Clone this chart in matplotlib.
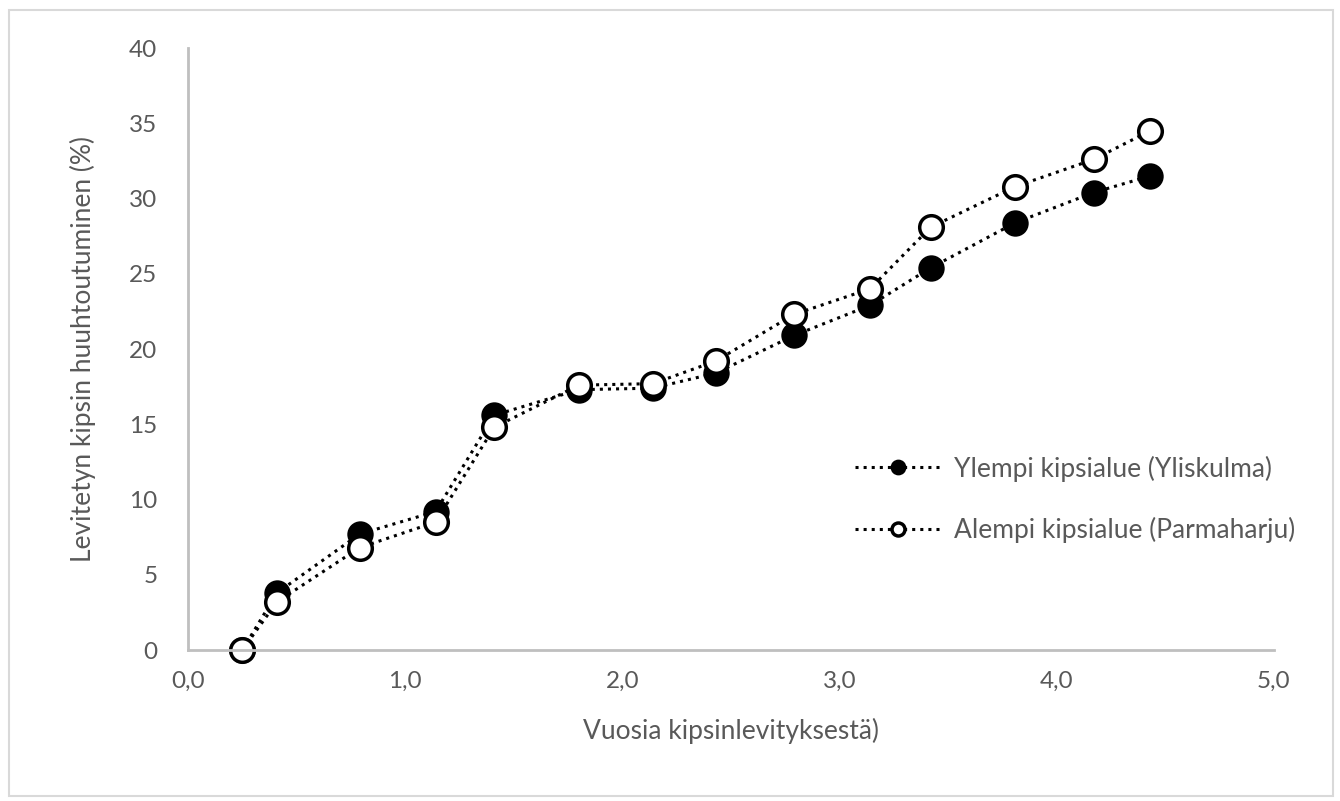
import matplotlib
matplotlib.use("Agg")
import matplotlib.pyplot as plt
from matplotlib.patches import Rectangle
from matplotlib.ticker import FuncFormatter

plt.rcParams["font.family"] = ["Lato", "DejaVu Sans"]

# years since gypsum spreading
years = [0.25, 0.41, 0.79, 1.14, 1.41, 1.80, 2.14, 2.43, 2.79, 3.14, 3.42, 3.81, 4.17, 4.43]
ylempi = [0.0, 3.8, 7.7, 9.2, 15.6, 17.3, 17.4, 18.4, 20.9, 22.9, 25.4, 28.4, 30.4, 31.5]
alempi = [0.0, 3.2, 6.8, 8.5, 14.8, 17.6, 17.7, 19.2, 22.3, 24.0, 28.1, 30.8, 32.6, 34.5]

labels = ["Ylempi kipsialue (Yliskulma)", "Alempi kipsialue (Parmaharju)"]
grey = "#595959"
axis_grey = "#BFBFBF"

fig = plt.figure(figsize=(13.4, 8.01), dpi=100)
fig.patches.append(Rectangle((0.007, 0.006), 0.988, 0.981, transform=fig.transFigure,
                             fill=False, edgecolor="#D9D9D9", linewidth=1.5))
ax = fig.add_axes([0.1403, 0.1885, 0.8104, 0.7515])

ax.plot(years, ylempi, linestyle=":", color="black", linewidth=2.2,
        marker="o", markersize=17, markerfacecolor="black", markeredgecolor="black",
        markeredgewidth=2, label=labels[0], clip_on=False)
ax.plot(years, alempi, linestyle=":", color="black", linewidth=2.2,
        marker="o", markersize=17, markerfacecolor="white", markeredgecolor="black",
        markeredgewidth=2.5, label=labels[1], clip_on=False)

ax.set_xlim(0, 5)
ax.set_ylim(0, 40)
ax.set_xticks([0, 1, 2, 3, 4, 5])
ax.set_yticks(range(0, 41, 5))
ax.xaxis.set_major_formatter(FuncFormatter(lambda v, p: f"{v:.1f}".replace(".", ",")))

for side in ["top", "right"]:
    ax.spines[side].set_visible(False)
for side in ["left", "bottom"]:
    ax.spines[side].set_color(axis_grey)
    ax.spines[side].set_linewidth(2)
ax.tick_params(length=0, labelsize=17.5, colors=grey)
ax.tick_params(axis="x", pad=15)
ax.tick_params(axis="y", pad=22)

ax.set_xlabel("Vuosia kipsinlevityksestä)", fontsize=19, color=grey, labelpad=19)
ax.set_ylabel("Levitetyn kipsin huuhtoutuminen (%)", fontsize=19, color=grey, labelpad=24)

leg = ax.legend(loc="center left", bbox_to_anchor=(0.614, 0.25), frameon=False,
                fontsize=19, handlelength=3.3, handletextpad=0.45, labelspacing=1.35,
                markerscale=0.55, borderpad=0, borderaxespad=0)
for t in leg.get_texts():
    t.set_color(grey)

fig.savefig("out.png", dpi=100)
